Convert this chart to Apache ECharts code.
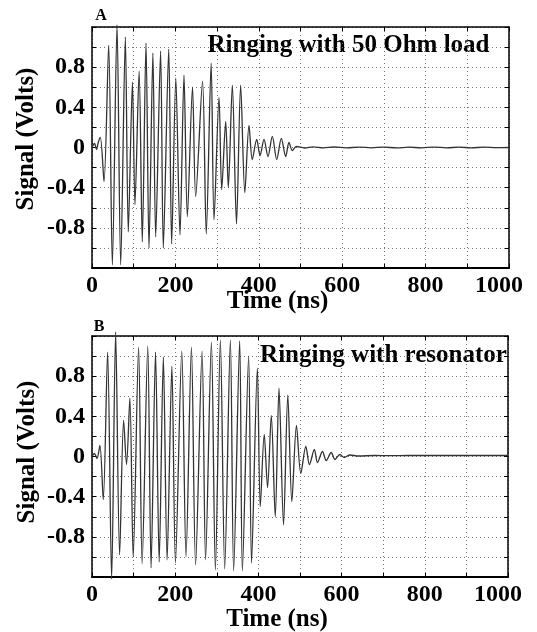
<!DOCTYPE html>
<html><head><meta charset="utf-8">
<script src="https://cdn.jsdelivr.net/npm/echarts@6/dist/echarts.min.js"></script>
<style>html,body{margin:0;padding:0;background:#fff}#c{width:537px;height:632px}</style>
</head><body><div id="c"></div>
<script>
// Panel A: ringing with 50 Ohm load (time in ns, signal in volts; extrema)
const timeA = [
  0, 6, 11, 15, 20, 28.8, 40, 48.8, 60, 68.8,
  80, 87, 97, 103, 113, 120.6, 129.5, 136.7, 146, 152.7,
  164.5, 171, 184, 191, 201, 211, 220.6, 228.6, 241, 248.6,
  265, 274, 285.7, 292.6, 304.6, 311, 320.6, 326.9, 336.5, 346.5,
  356.5, 366.5, 376.5, 384.4, 395, 403, 412.5, 422, 432.4, 443,
  454, 464.5, 472.4, 480.4, 490, 510, 530, 555, 580, 610,
  640, 670, 700, 730, 760, 790, 820, 850, 880, 910,
  940, 970, 1000
];
const signalA = [
  0.0, 0.04, -0.02, 0.05, 0.10, -0.34, 1.02, -1.17, 1.22, -1.17,
  1.10, -0.84, 0.65, -0.57, 0.76, -0.94, 1.04, -1.00, 0.94, -0.89,
  0.96, -1.00, 0.98, -0.96, 0.69, -0.87, 0.72, -0.69, 0.60, -0.49,
  0.66, -0.86, 0.84, -0.72, 0.50, -0.42, 0.26, -0.40, 0.62, -0.76,
  0.62, -0.45, 0.22, -0.12, 0.08, -0.08, 0.08, -0.09, 0.11, -0.12,
  0.09, -0.09, 0.05, -0.03, 0.01, -0.005, 0.006, -0.004, 0.005, -0.004,
  0.004, -0.003, 0.004, -0.004, 0.003, -0.003, 0.004, -0.003, 0.003, -0.003,
  0.003, -0.002, 0.0
];
// Panel B: ringing with resonator
const timeB = [
  0, 6, 12, 19, 27, 37.5, 47.2, 56.8, 66.4, 76,
  83, 91, 99, 112, 120.5, 134, 142, 152.7, 161.5, 171.5,
  180.5, 192, 200.6, 215.8, 226, 239, 249, 264.6, 273, 287,
  296.6, 308.6, 319, 332.6, 340.5, 355, 361.5, 376.5, 383.5, 397.5,
  404.5, 414, 422, 431, 440.5, 449.5, 460.4, 470.7, 480.4, 491.5,
  502, 514, 522.8, 534.5, 542, 554, 563, 575, 584, 596,
  606, 620, 640, 680, 720, 760, 800, 850, 900, 950,
  1000
];
const signalB = [
  0.0, 0.03, -0.02, 0.11, -0.43, 1.04, -1.22, 1.24, -0.98, 0.36,
  -0.08, 0.58, -1.00, 1.09, -1.07, 1.10, -1.11, 1.04, -1.05, 0.99,
  -1.03, 0.90, -1.06, 1.05, -1.00, 1.09, -1.08, 1.05, -1.03, 1.14,
  -1.13, 1.16, -1.12, 1.16, -1.14, 1.15, -1.14, 1.00, -1.06, 0.88,
  -0.50, 0.22, -0.31, 0.41, -0.60, 0.68, -0.68, 0.61, -0.45, 0.31,
  -0.17, 0.10, -0.08, 0.07, -0.06, 0.05, -0.04, 0.04, -0.03, 0.02,
  -0.01, 0.015, 0.005, 0.01, 0.008, 0.01, 0.01, 0.01, 0.01, 0.01,
  0.01
];
const xTickLabels = [0, 200, 400, 600, 800, 1000];
const yTickLabels = [-0.8, -0.4, 0, 0.4, 0.8];
const panelLetters = ['A', 'B'];
const notes = ['Ringing with 50 Ohm load', 'Ringing with resonator'];
const xTitle = 'Time (ns)';
const yTitle = 'Signal (Volts)';

const FONT = "'Liberation Serif', 'DejaVu Serif', serif";
const chart = echarts.init(document.getElementById('c'), null, {renderer: 'canvas'});

const pairs = (t, v) => t.map((x, i) => [x, v[i]]);
const grids = [
  {left: 92, right: 28, top: 27, height: 241},
  {left: 92, right: 29, top: 336, height: 241}
];
const grid = {color: '#777', type: [1, 3], width: 1};

const xAxes = [], yAxes = [];
grids.forEach((g, gi) => {
  xAxes.push({
    type: 'value', gridIndex: gi, min: 0, max: 1000, interval: 100, position: 'bottom',
    axisLine: {show: true, onZero: false, lineStyle: {color: '#000', width: 2}},
    axisTick: {show: true, inside: true, length: 4, lineStyle: {color: '#000'}},
    axisLabel: {
      show: true, margin: 6, color: '#000', fontFamily: FONT, fontWeight: 'bold', fontSize: 24,
      showMinLabel: true, showMaxLabel: true,
      formatter: v => {
        const r = Math.round(v);
        if (!xTickLabels.includes(r)) return '';
        return r === xTickLabels[xTickLabels.length - 1] ? '{m|' + r + '}' : String(r);
      },
      rich: {m: {fontFamily: FONT, fontWeight: 'bold', fontSize: 24, color: '#000', padding: [0, 20, 0, 0]}}
    },
    splitLine: {show: true, lineStyle: grid}
  });
  xAxes.push({
    type: 'value', gridIndex: gi, min: 0, max: 1000, interval: 100, position: 'top',
    axisLine: {show: true, onZero: false, lineStyle: {color: '#000', width: 1.5}},
    axisTick: {show: true, inside: true, length: 4, lineStyle: {color: '#000'}},
    axisLabel: {show: false}, splitLine: {show: false}
  });
  yAxes.push({
    type: 'value', gridIndex: gi, min: -1.2, max: 1.2, interval: 0.2, position: 'left',
    axisLine: {show: true, onZero: false, lineStyle: {color: '#000', width: 1.5}},
    axisTick: {show: true, inside: true, length: 4, lineStyle: {color: '#000'}},
    axisLabel: {
      show: true, margin: 7, color: '#000', fontFamily: FONT, fontWeight: 'bold', fontSize: 24,
      showMinLabel: true, showMaxLabel: true,
      formatter: v => {
        const r = Math.round(v * 10) / 10;
        return yTickLabels.some(t => Math.abs(t - r) < 1e-6) ? String(r === 0 ? 0 : r) : '';
      }
    },
    splitLine: {show: true, lineStyle: grid}
  });
  yAxes.push({
    type: 'value', gridIndex: gi, min: -1.2, max: 1.2, interval: 0.2, position: 'right',
    axisLine: {show: true, onZero: false, lineStyle: {color: '#000', width: 1.5}},
    axisTick: {show: true, inside: true, length: 4, lineStyle: {color: '#000'}},
    axisLabel: {show: false}, splitLine: {show: false}
  });
});

const seriesData = [pairs(timeA, signalA), pairs(timeB, signalB)];
const series = seriesData.map((d, i) => ({
  type: 'line', xAxisIndex: i * 2, yAxisIndex: i * 2, data: d,
  showSymbol: false, symbol: 'none', clip: false, animation: false, smooth: 0.3,
  lineStyle: {color: '#333', width: 1.3}
}));

const txt = (x, y, text, size, opts) => Object.assign({
  type: 'text', x: x, y: y, silent: true,
  style: {text: text, fill: '#000', font: 'bold ' + size + 'px ' + FONT, textAlign: 'center', textVerticalAlign: 'middle'}
}, opts || {});

const graphic = [
  txt(101, 15.5, panelLetters[0], 16),
  txt(99, 327, panelLetters[1], 16),
  txt(348.5, 46, notes[0], 25),
  txt(383.5, 356, notes[1], 25),
  txt(277.5, 302, xTitle, 25),
  txt(277, 620, xTitle, 25),
  txt(27, 139, yTitle, 25, {rotation: Math.PI / 2}),
  txt(28, 452, yTitle, 25, {rotation: Math.PI / 2})
];

chart.setOption({
  animation: false,
  backgroundColor: '#fff',
  grid: grids,
  xAxis: xAxes,
  yAxis: yAxes,
  series: series,
  graphic: graphic
});
</script>
</body></html>
